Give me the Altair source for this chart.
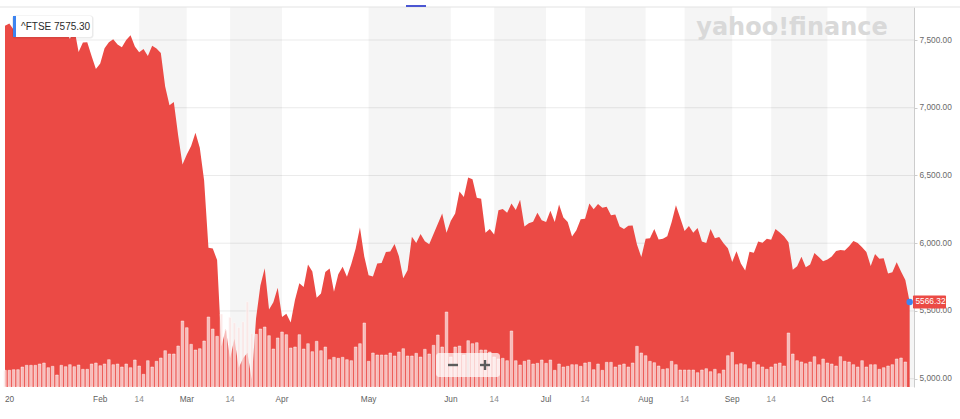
import altair as alt
import pandas as pd

# FTSE 100 daily closes, UK trading days 2 Jan 2020 .. 28 Oct 2020 (trading-day index 0..209)
close = [
    7604.3, 7622.4, 7575.3, 7573.9, 7574.9, 7598.1, 7588.0, 7617.6, 7622.4, 7642.8,
    7609.8, 7674.6, 7651.4, 7610.7, 7571.9, 7507.7, 7585.9, 7412.1, 7480.7, 7483.6,
    7381.9, 7286.0,
    7326.4, 7439.8, 7482.5, 7504.9, 7466.7, 7446.9, 7499.4, 7534.4, 7452.0, 7409.1,
    7433.3, 7382.0, 7457.0, 7436.6, 7403.9, 7156.8, 7017.9, 7042.5, 6796.4, 6580.6,
    6654.9, 6718.2, 6815.4, 6705.4, 6462.6, 5965.8, 5960.2, 5876.5, 5237.5, 5366.1,
    5151.1, 5294.9, 5080.6, 5151.6, 5190.8, 4993.9, 5446.0, 5688.2, 5815.7, 5510.3,
    5563.7, 5672.0,
    5454.6, 5480.2, 5415.5, 5582.4, 5704.5, 5677.7, 5842.7, 5791.3, 5597.7, 5628.4,
    5787.0, 5812.8, 5641.0, 5770.6, 5826.6, 5752.2, 5846.8, 5958.5, 6115.3, 5901.2,
    5763.1, 5753.8, 5849.4, 5853.8, 5935.0, 5939.7, 5994.8, 5904.0, 5741.5, 5799.8,
    6048.6, 6002.2, 6067.2, 6015.3, 5993.3, 6068.0, 6144.3, 6218.8, 6076.6,
    6166.4, 6220.1, 6382.1, 6341.4, 6484.3, 6472.6, 6335.7, 6329.1, 6076.6, 6105.2,
    6064.3, 6242.8, 6253.3, 6224.2, 6292.6, 6244.6, 6320.1, 6123.7, 6147.1, 6159.3,
    6225.8, 6169.7,
    6157.3, 6240.4, 6157.0, 6285.9, 6189.8, 6156.2, 6049.6, 6095.4, 6176.2, 6179.8,
    6292.7, 6250.7, 6290.3, 6261.5, 6269.7, 6207.1, 6211.4, 6123.7, 6104.7, 6129.3,
    6131.5, 5989.9, 5897.8,
    6032.2, 6036.0, 6104.7, 6026.9, 6032.2, 6050.6, 6154.3, 6280.1, 6185.6, 6090.0,
    6127.4, 6076.6, 6111.9, 6013.3, 6001.9, 6104.7, 6037.0, 6045.6, 5999.9, 5963.6,
    5862.0, 5940.9, 5850.9, 5799.1, 5937.4, 5930.3, 6012.8, 6003.3, 6032.1, 6026.3,
    6105.5, 6078.5, 6049.9, 6007.1, 5804.3, 5829.5, 5899.3, 5822.8, 5842.7, 5927.9,
    5897.5, 5866.1,
    5879.5, 5902.1, 5942.9, 5949.9, 5946.3, 5978.0, 6016.7, 6001.4, 5969.7, 5935.1,
    5832.5, 5919.6, 5884.7, 5889.2, 5776.5, 5785.7, 5860.3, 5792.0, 5728.9, 5566.32,
]

# relative traded volume per session (index 0..208)
volume = [
    16.7, 16.7, 17.3, 17.3, 20, 21.7, 21.7, 21.7, 23, 24,
    19.3, 20.7, 12, 21.7, 20.3, 22.3, 20.3, 22, 17.7, 17.7,
    23, 24, 21.3, 23, 27.3, 22.3, 23, 20, 23, 19.3,
    27, 21, 12.7, 26.3, 20, 25.7, 29, 36.3, 33, 33,
    41, 66, 59.3, 42.7, 37, 38.3, 46, 70, 58, 50.7,
    73, 57, 69.7, 64.3, 59.7, 65.3, 85.3, 53.7, 52.7, 58,
    60, 51.3, 38, 49, 55, 52.3, 39, 40, 52.3, 38,
    43.3, 35.3, 45.7, 36.3, 40, 27.3, 29.7, 28.7, 29.7, 27.3,
    26.3, 40, 43.3, 64, 25.7, 34, 32, 32, 32, 34,
    31, 35, 38.3, 31, 31, 33.7, 30, 37.7, 33, 41.7,
    52, 40, 75, 30, 40, 41, 32, 46.3, 43.3, 44.3,
    37, 37, 35, 30, 28, 28.7, 26.3, 56, 26.3, 22,
    25.7, 27, 23, 23.7, 27, 23.7, 27, 16.7, 23, 20,
    20.7, 22.3, 22.3, 20.7, 24, 24.7, 17.3, 23, 16.7, 24.7,
    24.7, 20, 22, 23, 20, 24, 40.7,
    34, 31.3, 25.7, 24.3, 21, 17.7, 18.3, 25.7, 22.3, 17,
    17, 17, 17, 14.3, 17, 18.3, 15.3, 17.7, 13.3, 17,
    31.3, 34.7, 22.3, 23.3, 22.3, 18.3, 25, 22.3, 20, 17.7,
    20, 23, 24, 21, 54, 33, 26.3, 25, 23.3, 25,
    30.3, 22.3, 28, 24, 23, 21, 30.3, 25.7, 25, 22.3,
    20, 26.3, 20, 22.3, 22.3, 17.7, 19.3, 21, 22.3, 28,
    29, 25,
]

tick_idx = [0, 22, 31, 42, 52, 64, 84, 103, 113, 125, 134, 148, 157, 168, 177, 190, 199]
tick_lab = ["20", "Feb", "14", "Mar", "14", "Apr", "May", "Jun", "14", "Jul", "14",
            "Aug", "14", "Sep", "14", "Oct", "14"]
band_start = [31, 52, 84, 113, 134, 157, 177, 199]
band_end = [42, 64, 103, 125, 148, 168, 190, 210]
y_ticks = [5000, 5500, 6000, 6500, 7000, 7500]
symbol = "^FTSE"
hover_idx = 2

X_DOMAIN = [0, 210]
Y_DOMAIN = [4938.7, 7743.6]
VOL_DOMAIN = [0, 380]
W, H = 909, 380
RED = "#eb4a45"
FONT = "Liberation Sans"

price_df = pd.DataFrame({"idx": list(range(len(close))), "close": close})
vol_df = pd.DataFrame({"idx": list(range(len(volume))), "vol": volume})
band_df = pd.DataFrame({"s": band_start, "e": band_end})
grid_df = pd.DataFrame({"v": y_ticks})
tick_df = pd.DataFrame({"idx": tick_idx, "lab": tick_lab})
tick_df["kind"] = ["first" if i == 0 else ("mid" if l == "14" else "month")
                   for i, l in zip(tick_idx, tick_lab)]
last_df = pd.DataFrame({"idx": [len(close) - 1], "close": [close[-1]],
                        "hi": [close[-1] + 48], "lo": [close[-1] - 48],
                        "lab": [f"{close[-1]:.2f}"]})
one = pd.DataFrame({"a": [0]})


def xsc():
    return alt.Scale(domain=X_DOMAIN, nice=False, zero=False, padding=0)


def ysc():
    return alt.Scale(domain=Y_DOMAIN, nice=False, zero=False)


x_axis = alt.Axis(
    values=tick_idx[1:], labels=False, tickSize=4, tickColor="#d4d4d4",
    domainColor="#d9d9d9", grid=False, title=None, zindex=1,
)
y_axis = alt.Axis(
    orient="right", values=y_ticks, format=",.2f", labelFont=FONT, labelFontSize=8.3,
    labelColor="#6a6a6a", labelPadding=2, tickSize=3, tickColor="#cccccc",
    domainColor="#cccccc", grid=False, title=None,
)

grid = alt.Chart(grid_df).mark_rule(color="#ebebeb", strokeWidth=1).encode(
    y=alt.Y("v:Q", scale=ysc(), axis=y_axis))
bands = alt.Chart(band_df).mark_rect(color="#000000", opacity=0.04).encode(
    x=alt.X("s:Q", scale=xsc(), axis=x_axis), x2="e:Q", y=alt.value(0), y2=alt.value(H))
area = alt.Chart(price_df).mark_area(color=RED, opacity=1).encode(
    x=alt.X("idx:Q", scale=xsc(), axis=None),
    y=alt.Y("close:Q", scale=ysc(), axis=None),
    y2=alt.datum(Y_DOMAIN[0]))

vol_bars = alt.Chart(vol_df).mark_bar(
    size=2.6, fill="#fbe1e0", fillOpacity=0.75, stroke="#ffffff",
    strokeWidth=0.6, strokeOpacity=0.75).encode(
    x=alt.X("idx:Q", scale=xsc(), axis=None),
    y=alt.Y("vol:Q", scale=alt.Scale(domain=VOL_DOMAIN, nice=False, zero=True), axis=None))


def tick_labels(kind, align, color):
    return alt.Chart(tick_df).transform_filter(alt.datum.kind == kind).mark_text(
        font=FONT, fontSize=8.3, align=align, baseline="middle", color=color).encode(
        x=alt.X("idx:Q", scale=xsc(), axis=None), y=alt.value(H + 13), text="lab:N")


lab_first = tick_labels("first", "left", "#5f5f5f")
lab_month = tick_labels("month", "center", "#5f5f5f")
lab_mid = tick_labels("mid", "center", "#8c8c8c")

dot = alt.Chart(last_df).mark_circle(color="#3d84f0", size=42, opacity=1).encode(
    x=alt.X("idx:Q", scale=xsc(), axis=None), y=alt.Y("close:Q", scale=ysc(), axis=None))
last_box = alt.Chart(last_df).mark_rect(color=RED, cornerRadius=1).encode(
    x=alt.value(908), x2=alt.value(941),
    y=alt.Y("hi:Q", scale=ysc(), axis=None), y2="lo:Q")
last_txt = alt.Chart(last_df).mark_text(
    color="white", font=FONT, fontSize=8.3, align="center", baseline="middle").encode(
    x=alt.value(925.5), y=alt.Y("close:Q", scale=ysc(), axis=None), text="lab:N")

tip_text = f"{symbol} {close[hover_idx]:.2f}"
chrome = [
    alt.Chart(one).mark_rule(color="#e3e3e3").encode(
        x=alt.value(-5), x2=alt.value(955), y=alt.value(0)),
    alt.Chart(one).mark_rect(color="#4b56d2").encode(
        x=alt.value(401), x2=alt.value(421), y=alt.value(-2), y2=alt.value(0)),
    alt.Chart(one).mark_text(font="DejaVu Sans", fontWeight="bold", fontSize=24,
                             color="#d9d9d9", align="center", baseline="alphabetic").encode(
        x=alt.value(787), y=alt.value(28), text=alt.value("yahoo!finance")),
    alt.Chart(one).mark_rect(color="#000000", opacity=0.08, cornerRadius=3).encode(
        x=alt.value(7), x2=alt.value(88.5), y=alt.value(8.5), y2=alt.value(31.5)),
    alt.Chart(one).mark_rect(color="#ffffff", cornerRadius=2).encode(
        x=alt.value(8), x2=alt.value(87), y=alt.value(9), y2=alt.value(30)),
    alt.Chart(one).mark_rect(color="#3d84f0").encode(
        x=alt.value(8), x2=alt.value(11), y=alt.value(9), y2=alt.value(30)),
    alt.Chart(one).mark_text(font=FONT, fontSize=10, color="#2b2b2b", align="left",
                             baseline="middle").encode(
        x=alt.value(16), y=alt.value(19.5), text=alt.value(tip_text)),
    alt.Chart(one).mark_rect(color="#ffffff", opacity=0.72, cornerRadius=3).encode(
        x=alt.value(431), x2=alt.value(495), y=alt.value(346), y2=alt.value(370)),
    alt.Chart(one).mark_rule(color="#e9e9e9").encode(
        x=alt.value(463), y=alt.value(346), y2=alt.value(370)),
    alt.Chart(one).mark_rule(color="#5c5c5c", strokeWidth=2.4).encode(
        x=alt.value(443), x2=alt.value(453), y=alt.value(358)),
    alt.Chart(one).mark_rule(color="#5c5c5c", strokeWidth=2.4).encode(
        x=alt.value(475), x2=alt.value(485), y=alt.value(358)),
    alt.Chart(one).mark_rule(color="#5c5c5c", strokeWidth=2.4).encode(
        x=alt.value(480), y=alt.value(353), y2=alt.value(363)),
]

chart = alt.layer(
    grid, bands, area, vol_bars, lab_first, lab_month, lab_mid,
    dot, last_box, last_txt, *chrome
).resolve_scale(
    y="independent"
).properties(
    width=W, height=H,
    padding={"left": 5, "top": 7, "right": 46, "bottom": 32},
    autosize=alt.AutoSizeParams(type="none"),
    background="white",
).configure_view(strokeWidth=0)

chart.save("out.html", embed_options={"renderer": "svg", "actions": False})
